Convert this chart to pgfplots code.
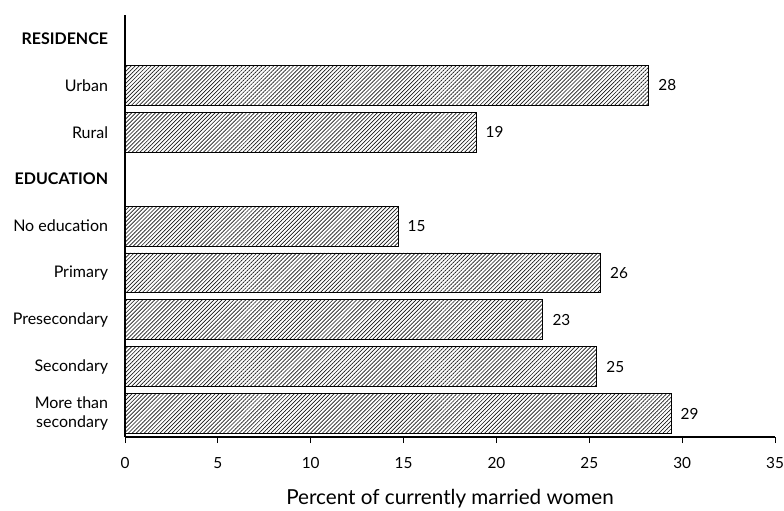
\documentclass[border=0pt]{standalone}
\usepackage{fontspec}
\setmainfont{Lato}
\usepackage{pgfplots}
\usepackage{pgfplotstable}
\pgfplotsset{compat=1.18}
\usetikzlibrary{patterns.meta}
\pgfplotstableread{
y x label
1 28.2 28
2 18.9 19
4 14.7 15
5 25.6 26
6 22.5 23
7 25.4 25
8 29.4 29
}\datatable
\begin{document}
\begin{tikzpicture}
\path[use as bounding box] (-93.75pt,-54.75pt) rectangle (494.25pt,327.75pt);
\begin{axis}[
 at={(0,0)}, anchor=south west,
 scale only axis, width=487.5pt, height=316.5pt,
 xbar, bar width=0.85,
 xmin=0, xmax=35, xtick={0,5,...,35},
 ymin=-0.5, ymax=8.5, y dir=reverse,
 ytick={0,...,8},
 yticklabels={\textbf{RESIDENCE}, Urban, Rural, \textbf{EDUCATION}, No education, Primary, Presecondary, Secondary, {More than\\secondary}},
 yticklabel style={align=right, font=\fontsize{12}{14}\selectfont, inner sep=0pt, xshift=-8pt},
 y tick style={draw=none},
 axis x line*=bottom, axis y line*=left,
 axis line style={-, line width=0.8pt},
 tick align=outside, x tick style={black, line width=0.6pt}, major tick length=4.5pt,
 xticklabel style={font=\fontsize{11.5}{12}\selectfont, yshift=-7pt},
 /pgf/number format/assume math mode=true,
 xlabel={Percent of currently married women},
 xlabel style={font=\fontsize{15.5}{17}\selectfont, yshift=-9pt},
 nodes near coords, point meta=explicit symbolic,
 nodes near coords style={font=\fontsize{11.5}{12}\selectfont, anchor=west, inner sep=0pt, xshift=7pt},
]
\addplot[draw=black, line width=0.6pt, pattern={Lines[angle=45, distance=2.1pt, line width=0.5pt]}, pattern color=black!90] table[x=x, y=y, meta=label] {\datatable};
\end{axis}
\end{tikzpicture}
\end{document}
